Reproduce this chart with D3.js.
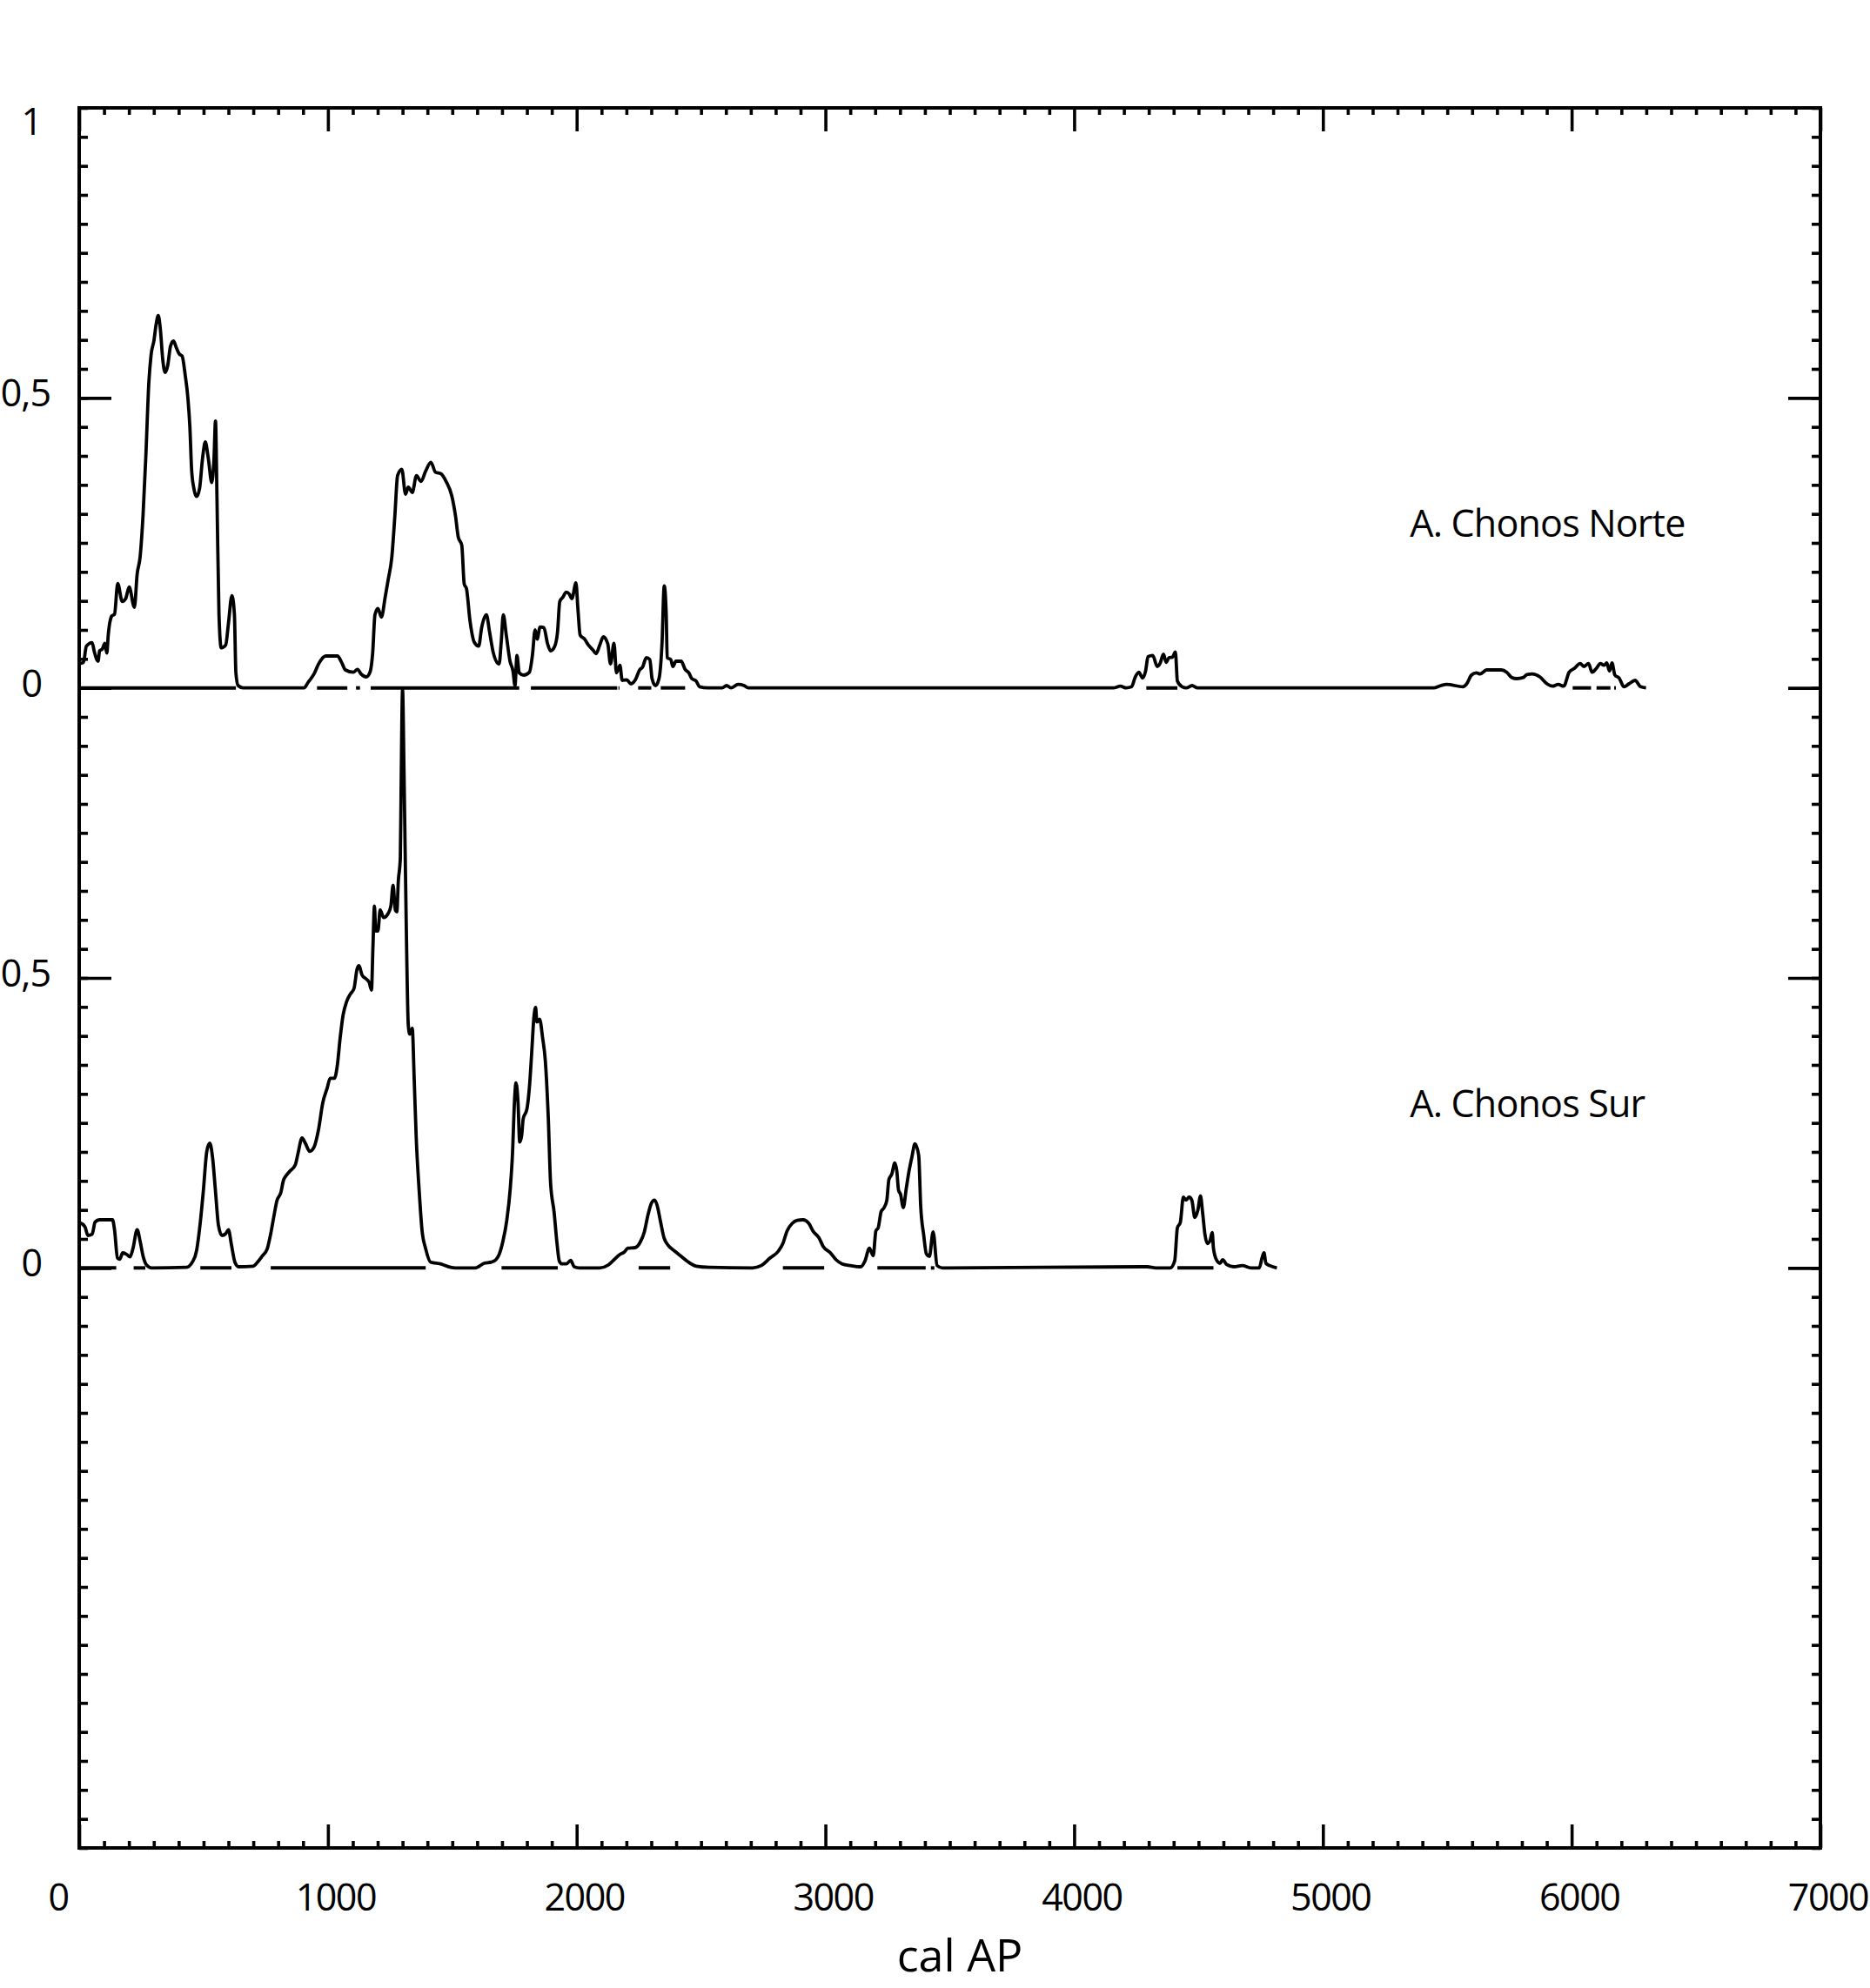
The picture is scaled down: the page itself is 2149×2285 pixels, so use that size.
<!DOCTYPE html>
<html>
<head>
<meta charset="utf-8">
<script src="https://cdn.jsdelivr.net/npm/d3@7"></script>
<style>
	body { margin: 0; background: #fff; }
	svg text { font-family: 'Open Sans', sans-serif; fill: #000; }
</style>
</head>
<body>
<svg id="chart" width="2149" height="2285"></svg>
<script>

// summed probability, A. Chonos Norte  [cal AP, value]
var norte = [
	[0,0.042],[17,0.044],[29,0.072],[52,0.078],[61,0.062],[76,0.046],[82,0.064],[93,0.067],[103,0.077],[111,0.06],
	[117,0.092],[131,0.124],[142,0.127],[155,0.18],[173,0.149],[187,0.154],[201,0.174],[222,0.139],[233,0.196],[245,0.226],
	[257,0.30],[268,0.40],[280,0.526],[289,0.574],[301,0.60],[309,0.626],[318,0.642],[326,0.62],[336,0.566],[345,0.544],
	[356,0.556],[367,0.589],[379,0.598],[391,0.586],[402,0.576],[414,0.572],[426,0.54],[437,0.50],[445,0.45],[452,0.376],
	[461,0.344],[472,0.33],[484,0.344],[496,0.396],[507,0.424],[519,0.396],[533,0.354],[542,0.396],[548,0.46],[554,0.326],
	[562,0.127],[571,0.069],[589,0.074],[600,0.111],[614,0.159],[624,0.127],[630,0.026],[639,0.004],[659,0],[904,0],
	[921,0.01],[944,0.024],[962,0.041],[991,0.055],[1038,0.055],[1055,0.044],[1070,0.031],[1102,0.027],[1119,0.032],[1133,0.024],
	[1154,0.019],[1169,0.027],[1180,0.061],[1189,0.126],[1201,0.137],[1215,0.122],[1230,0.156],[1242,0.186],[1257,0.226],[1269,0.296],
	[1280,0.366],[1297,0.377],[1312,0.334],[1323,0.346],[1339,0.337],[1356,0.366],[1374,0.356],[1393,0.374],[1414,0.389],[1432,0.372],
	[1455,0.369],[1475,0.356],[1498,0.331],[1513,0.296],[1524,0.26],[1538,0.246],[1548,0.179],[1557,0.171],[1571,0.116],[1588,0.079],
	[1606,0.072],[1618,0.104],[1637,0.126],[1650,0.096],[1664,0.062],[1688,0.041],[1697,0.081],[1705,0.126],[1717,0.091],[1732,0.046],
	[1744,0.029],[1752,0.004],[1760,0.056],[1769,0.026],[1787,0.022],[1810,0.027],[1822,0.056],[1833,0.10],[1841,0.084],[1853,0.105],
	[1868,0.104],[1883,0.076],[1895,0.064],[1911,0.071],[1923,0.096],[1932,0.149],[1944,0.156],[1958,0.165],[1970,0.162],[1981,0.154],
	[1997,0.181],[2005,0.136],[2014,0.091],[2032,0.084],[2047,0.074],[2066,0.065],[2078,0.059],[2093,0.074],[2107,0.088],[2125,0.076],
	[2136,0.041],[2150,0.077],[2160,0.026],[2174,0.039],[2183,0.013],[2201,0.014],[2218,0.007],[2236,0.014],[2253,0.031],[2265,0.036],
	[2280,0.052],[2294,0.049],[2303,0.016],[2317,0.004],[2331,0.016],[2343,0.076],[2352,0.176],[2360,0.126],[2364,0.052],[2378,0.049],
	[2387,0.037],[2399,0.046],[2420,0.046],[2436,0.032],[2451,0.026],[2463,0.016],[2480,0.012],[2494,0.002],[2527,0],[2585,0],
	[2603,0.004],[2620,0],[2649,0.006],[2673,0.004],[2690,0],[4157,0],[4186,0.003],[4209,0],[4231,0.002],[4245,0.018],
	[4260,0.027],[4275,0.017],[4287,0.029],[4297,0.054],[4316,0.056],[4334,0.037],[4345,0.042],[4359,0.058],[4370,0.044],[4381,0.052],
	[4395,0.053],[4407,0.062],[4415,0.012],[4434,0.002],[4451,0],[4474,0.004],[4496,0],[5445,0],[5474,0.004],[5497,0.006],
	[5563,0.002],[5578,0.007],[5597,0.022],[5617,0.026],[5632,0.024],[5658,0.031],[5717,0.031],[5739,0.027],[5759,0.018],[5779,0.016],
	[5806,0.018],[5820,0.023],[5842,0.024],[5872,0.019],[5901,0.007],[5923,0.003],[5946,0.006],[5968,0.003],[5990,0.027],[6012,0.034],
	[6034,0.042],[6049,0.037],[6068,0.042],[6082,0.027],[6100,0.034],[6115,0.042],[6130,0.039],[6141,0.043],[6152,0.029],[6162,0.043],
	[6174,0.022],[6191,0.017],[6210,0.002],[6230,0.007],[6255,0.013],[6277,0.002],[6299,0]
];

// summed probability, A. Chonos Sur  [cal AP, value]
var sur = [
	[0,0.079],[23,0.071],[35,0.056],[52,0.058],[64,0.079],[82,0.083],[134,0.083],[142,0.066],[154,0.017],[163,0.015],
	[175,0.026],[192,0.023],[204,0.019],[216,0.033],[233,0.066],[245,0.046],[257,0.02],[271,0.005],[292,0],[431,0.001],
	[455,0.01],[472,0.03],[487,0.079],[499,0.132],[513,0.201],[525,0.215],[536,0.191],[548,0.132],[560,0.073],[574,0.056],
	[589,0.059],[600,0.066],[612,0.04],[626,0.01],[641,0.002],[700,0.003],[717,0.01],[735,0.02],[756,0.033],[770,0.059],
	[784,0.092],[795,0.116],[810,0.129],[822,0.152],[830,0.158],[845,0.166],[869,0.178],[880,0.198],[896,0.224],[909,0.215],
	[927,0.201],[944,0.208],[962,0.238],[979,0.284],[997,0.31],[1009,0.327],[1026,0.327],[1038,0.35],[1049,0.396],[1061,0.436],
	[1075,0.459],[1090,0.472],[1105,0.482],[1117,0.515],[1125,0.521],[1137,0.505],[1154,0.498],[1166,0.492],[1175,0.479],[1181,0.554],
	[1187,0.624],[1192,0.581],[1201,0.581],[1210,0.617],[1224,0.604],[1242,0.611],[1253,0.624],[1262,0.66],[1271,0.617],[1277,0.614],
	[1283,0.667],[1291,0.706],[1294,0.818],[1300,0.997],[1306,0.851],[1315,0.587],[1323,0.419],[1329,0.403],[1339,0.413],[1347,0.323],
	[1355,0.224],[1367,0.132],[1378,0.066],[1393,0.033],[1413,0.01],[1452,0.007],[1493,0.001],[1512,0],[1593,0],[1628,0.008],
	[1657,0.01],[1675,0.014],[1689,0.024],[1704,0.047],[1719,0.082],[1733,0.137],[1742,0.197],[1750,0.287],[1756,0.319],[1764,0.287],
	[1771,0.217],[1779,0.229],[1785,0.257],[1800,0.274],[1811,0.317],[1820,0.377],[1828,0.432],[1835,0.449],[1840,0.424],[1851,0.429],
	[1863,0.397],[1874,0.357],[1886,0.257],[1895,0.147],[1909,0.097],[1921,0.042],[1930,0.012],[1941,0.007],[1959,0.007],[1976,0.013],
	[1990,0.002],[2011,0],[2092,0],[2127,0.005],[2150,0.014],[2173,0.023],[2191,0.027],[2206,0.034],[2235,0.035],[2255,0.044],
	[2272,0.062],[2287,0.092],[2301,0.112],[2313,0.117],[2324,0.107],[2336,0.082],[2351,0.052],[2368,0.039],[2394,0.029],[2417,0.021],
	[2446,0.011],[2481,0.003],[2533,0.001],[2707,0],[2742,0.004],[2777,0.017],[2811,0.029],[2829,0.042],[2846,0.064],[2867,0.077],
	[2887,0.082],[2910,0.083],[2933,0.077],[2951,0.063],[2974,0.052],[2991,0.037],[3020,0.026],[3043,0.014],[3067,0.007],[3101,0.004],
	[3142,0.002],[3159,0.012],[3177,0.034],[3192,0.021],[3203,0.064],[3212,0.069],[3224,0.097],[3236,0.104],[3247,0.117],[3255,0.152],
	[3267,0.162],[3279,0.181],[3287,0.167],[3294,0.134],[3302,0.127],[3313,0.104],[3325,0.137],[3337,0.169],[3348,0.192],[3360,0.214],
	[3375,0.194],[3383,0.107],[3395,0.057],[3406,0.024],[3418,0.02],[3433,0.062],[3449,0.004],[3470,0],[4294,0.002],[4328,0],
	[4386,0],[4404,0.012],[4415,0.069],[4427,0.079],[4439,0.122],[4450,0.117],[4462,0.122],[4473,0.117],[4485,0.087],[4497,0.099],
	[4508,0.124],[4516,0.097],[4526,0.057],[4535,0.042],[4546,0.047],[4555,0.061],[4560,0.034],[4572,0.014],[4586,0.008],[4597,0.014],
	[4613,0.006],[4642,0.002],[4676,0.004],[4711,0],[4744,0],[4755,0.017],[4763,0.026],[4771,0.008],[4786,0.004],[4815,0]
];

// date ranges drawn as bars on each zero line  [from, to]
var norteRanges = [ [0,630],[956,1078],[1113,1129],[1172,1769],[1816,2163],[2168,2172],[2247,2300],[2338,2436],[4290,4415],[6004,6078],[6100,6156],[6171,6178] ];
var surRanges = [ [0,149],[219,266],[487,612],[770,1393],[1698,1924],[2249,2376],[2829,2995],[3209,3403],[3424,3438],[4415,4560] ];

var seriesNames = [ 'A. Chonos Norte', 'A. Chonos Sur' ];
var seriesOffsets = [ 2, 1 ];	// each panel is one unit of the stacked y scale

var xTickLabels = [ 0, 1000, 2000, 3000, 4000, 5000, 6000, 7000 ];
var yTickVals = [ 1, 1.5, 2, 2.5, 3 ];
var yTickLabels = [ '0', '0,5', '0', '0,5', '1' ];
var xTitle = 'cal AP';

// plot frame, in px
var plotL = 91, plotR = 2092, plotT = 124, plotB = 2124;

var svg = d3.select( '#chart' );

var x = d3.scaleLinear().domain( [ 0, 7000 ] ).range( [ plotL, plotR ] );
var y = d3.scaleLinear().domain( [ 0, 3 ] ).range( [ plotB, plotT ] );

var xMinor = d3.range( 0, 7001, 100 ).filter( function( _d ) { return _d % 1000 != 0; } );
var xMajor = d3.range( 0, 7001, 1000 );
var yMinor = d3.range( 0, 61 ).map( function( _i ) { return _i / 20; } );
var yMajor = [ 1, 1.5, 2, 2.5 ];

// ticks point inward on all four sides
function addAxis( _axis, _tx, _ty ) {
	var g = svg.append( 'g' )
		.attr( 'transform', 'translate(' + _tx + ',' + _ty + ')' )
		.call( _axis.tickFormat( '' ).tickSizeOuter( 0 ) );
	g.select( '.domain' ).remove();
	g.selectAll( '.tick line' ).attr( 'stroke', '#000' ).attr( 'stroke-width', 3.6 );
}

addAxis( d3.axisTop( x ).tickValues( xMinor ).tickSize( 8 ), 0, plotB );
addAxis( d3.axisTop( x ).tickValues( xMajor ).tickSize( 27 ), 0, plotB );
addAxis( d3.axisBottom( x ).tickValues( xMinor ).tickSize( 8 ), 0, plotT );
addAxis( d3.axisBottom( x ).tickValues( xMajor ).tickSize( 27 ), 0, plotT );
addAxis( d3.axisRight( y ).tickValues( yMinor ).tickSize( 10 ), plotL, 0 );
addAxis( d3.axisRight( y ).tickValues( yMajor ).tickSize( 37 ), plotL, 0 );
addAxis( d3.axisLeft( y ).tickValues( yMinor ).tickSize( 10 ), plotR, 0 );
addAxis( d3.axisLeft( y ).tickValues( yMajor ).tickSize( 37 ), plotR, 0 );

// frame
svg.append( 'rect' )
	.attr( 'x', plotL )
	.attr( 'y', plotT )
	.attr( 'width', plotR - plotL )
	.attr( 'height', plotB - plotT )
	.attr( 'fill', 'none' )
	.attr( 'stroke', '#000' )
	.attr( 'stroke-width', 4 );

// range bars on the zero lines
[ norteRanges, surRanges ].forEach( function( _ranges, _i ) {
	svg.append( 'g' ).selectAll( 'line' )
		.data( _ranges )
		.enter().append( 'line' )
		.attr( 'x1', function( _d ) { return x( _d[ 0 ] ); } )
		.attr( 'x2', function( _d ) { return x( _d[ 1 ] ); } )
		.attr( 'y1', y( seriesOffsets[ _i ] ) )
		.attr( 'y2', y( seriesOffsets[ _i ] ) )
		.attr( 'stroke', '#000' )
		.attr( 'stroke-width', 4 );
} );

// curves
[ norte, sur ].forEach( function( _data, _i ) {
	var line = d3.line()
		.x( function( _d ) { return x( _d[ 0 ] ); } )
		.y( function( _d ) { return y( seriesOffsets[ _i ] + _d[ 1 ] ); } )
		.curve( d3.curveMonotoneX );

	svg.append( 'path' )
		.datum( _data )
		.attr( 'd', line )
		.attr( 'fill', 'none' )
		.attr( 'stroke', '#000' )
		.attr( 'stroke-width', 3.8 )
		.attr( 'stroke-linejoin', 'round' );
} );

// series names
svg.selectAll( 'text.series' )
	.data( seriesNames )
	.enter().append( 'text' )
	.attr( 'class', 'series' )
	.attr( 'x', x( 5350 ) )
	.attr( 'y', function( _d, _i ) { return y( seriesOffsets[ _i ] + 0.26 ); } )
	.style( 'font-size', '43px' )
	.style( 'letter-spacing', '-0.8px' )
	.text( function( _d ) { return _d; } );

// y labels
svg.selectAll( 'text.ylab' )
	.data( yTickVals )
	.enter().append( 'text' )
	.attr( 'class', 'ylab' )
	.attr( 'text-anchor', 'end' )
	.attr( 'x', function( _d, _i ) { return yTickLabels[ _i ].length > 1 ? 58 : 48; } )
	.attr( 'y', function( _d ) { return y( _d ) + ( _d == 3 ? 31 : 10 ); } )
	.style( 'font-size', '43px' )
	.style( 'letter-spacing', '-1px' )
	.text( function( _d, _i ) { return yTickLabels[ _i ]; } );

// x labels
svg.selectAll( 'text.xlab' )
	.data( xTickLabels )
	.enter().append( 'text' )
	.attr( 'class', 'xlab' )
	.attr( 'text-anchor', 'middle' )
	.attr( 'x', function( _d ) { return x( _d ) + ( _d == 0 ? -24 : 9 ); } )
	.attr( 'y', 2196 )
	.style( 'font-size', '43px' )
	.style( 'letter-spacing', '-1.5px' )
	.text( function( _d ) { return _d; } );

svg.append( 'text' )
	.attr( 'text-anchor', 'middle' )
	.attr( 'x', 1103 )
	.attr( 'y', 2266 )
	.style( 'font-size', '52px' )
	.text( xTitle );

</script>
</body>
</html>
